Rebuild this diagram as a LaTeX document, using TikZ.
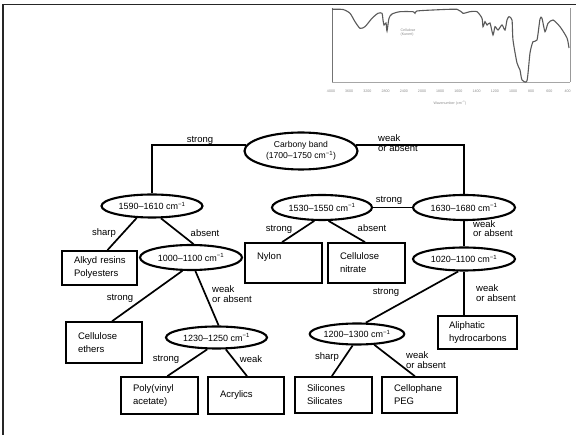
\documentclass[tikz,border=0pt]{standalone}
\usepackage{fontspec}
\setmainfont{Liberation Sans}
\usetikzlibrary{shapes.geometric,calc}
\newcommand{\wn}{cm\textsuperscript{−1}}
\begin{document}
\begin{tikzpicture}[x=1pt,y=-1pt,
  ell/.style={ellipse,draw,line width=2.1pt,inner sep=0pt,align=center,font=\fontsize{9}{11}\selectfont},
  box/.style={rectangle,draw,line width=1.7pt,inner xsep=12pt,inner ysep=0pt,align=left,font=\fontsize{9.5}{13}\selectfont},
  lbl/.style={inner sep=0pt,align=left,font=\fontsize{9.5}{9.5}\selectfont},
  conn/.style={line width=1.7pt},
  tick/.style={inner sep=0pt,text=black!45,font=\fontsize{3.6}{4}\selectfont},
  frameline/.style={line width=1.4pt,black!85}]
\useasboundingbox (0,0) rectangle (576,435);
\fill[white] (0,0) rectangle (576,435);
% page frame
\coordinate (tl) at (3,4.5);
\coordinate (tr) at (576,4.5);
\coordinate (bl) at (3,435);
\draw[frameline] (tr) -- (tl) -- (bl);
% spectrum inset
\coordinate (sp0) at (332,8);
\coordinate (sp1) at (332,82);
\coordinate (sp2) at (570,82);
\coordinate (sp3) at (570,8);
\draw[black!35,line width=0.6pt] (sp1) -- (sp2);
\draw[black!55,line width=0.7pt] (sp0) -- (sp1);
\draw[black!40,line width=0.7pt] (sp2) -- (sp3);
\draw[black!65,line width=1.1pt] plot[smooth,tension=0.4] coordinates {
 (332,9.3) (343,9.5) (350,13.3) (355,21.7) (360,28.3) (365,26.7) (372,18.3) (378,13.3)
 (382,13.3) (383,20) (384,25) (386,23) (387,31) (389,18.3) (392,14) (400,11.7) (413,11.7)
 (415,13.3) (417,11) (433,10) (457,9.3) (463,13.3) (470,11.7) (477,11.7) (482,18.3)
 (483,26.7) (485,21.7) (487,25) (490,23) (493,35) (495,26.7) (498,30) (502,25) (505,30)
 (507,20) (509,16.7) (512,20) (513,40) (517,63) (520,70) (522,80) (527,80.7) (530,53)
 (533,41.7) (537,40) (540,19) (542,18.3) (545,31.7) (548,23.3) (553,20) (560,26.7)
 (567,38) (569,48)};
\node[tick,align=left] (cel) at (408,33) {Cellulose\\(Kunert)};
\foreach \v [count=\i from 0] in {4000,3600,3200,2800,2400,2000,1800,1600,1400,1200,1000,800,600,400}
  \node[tick] (t\i) at ({331+\i*18.2},91) {\v};
\node[tick] (wnl) at (450,103) {Wavenumber (\wn)};
% ellipses
\node[ell,minimum width=113pt,minimum height=37pt,font=\fontsize{8.6}{11.5}\selectfont] (carb) at (301,151) {Carbony band\\(1700–1750 \wn)};
\node[ell,minimum width=101pt,minimum height=23pt] (e1590) at (152,206) {1590–1610 \wn};
\node[ell,minimum width=100pt,minimum height=25pt] (e1530) at (322,207.5) {1530–1550 \wn};
\node[ell,minimum width=102pt,minimum height=25pt] (e1630) at (464,207.5) {1630–1680 \wn};
\node[ell,minimum width=102pt,minimum height=25pt] (e1000) at (191,257.5) {1000–1100 \wn};
\node[ell,minimum width=102pt,minimum height=23pt] (e1020) at (464,259) {1020–1100 \wn};
\node[ell,minimum width=101pt,minimum height=22pt] (e1230) at (216.5,337.5) {1230–1250 \wn};
\node[ell,minimum width=94pt,minimum height=21pt] (e1200) at (357,334) {1200–1300 \wn};
% boxes
\node[box,text width=51pt,minimum height=34pt] (alkyd) at (99.5,268) {\mbox{Alkyd resins}\\Polyesters};
\node[box,text width=53pt,minimum height=40pt] (nylon) at (283.5,263) {Nylon\\\mbox{}};
\node[box,text width=53pt,minimum height=40pt] (cnit) at (366.5,263) {Cellulose\\nitrate};
\node[box,text width=52pt,minimum height=41pt] (ceth) at (104,342.5) {Cellulose\\ethers};
\node[box,text width=57pt,minimum height=33pt,inner xsep=11pt] (aliph) at (477.5,332.5) {Aliphatic\\\mbox{hydrocarbons}};
\node[box,text width=53pt,minimum height=37pt] (poly) at (159.5,395.5) {Poly(vinyl\\acetate)};
\node[box,text width=52pt,minimum height=37pt] (acryl) at (246,395.5) {Acrylics};
\node[box,text width=53pt,minimum height=36pt] (silic) at (333.5,395) {Silicones\\Silicates};
\node[box,text width=51pt,minimum height=36pt] (cello) at (419.5,395) {Cellophane\\PEG};
% connectors
\draw[conn] (carb.174) -| (e1590.north);
\draw[conn] (carb.6) -| (e1630.north);
\draw[conn] (e1590.218) -- (alkyd.66);
\draw[conn] (e1590.306) -- (e1000.80);
\draw[conn] (e1000.237) -- (ceth.69);
\draw[conn] (e1000.288) -- (e1230.80);
\draw[conn] (e1230.232) -- (poly.68);
\draw[conn] (e1230.308) -- (acryl.87);
\draw[conn] (e1530.240) -- (nylon.94);
\draw[conn] (e1530.296) -- (cnit.94);
\draw[conn] (e1530.east) -- (e1630.west);
\draw[conn] (e1630.south) -- (e1020.north);
\draw[conn] (e1020.245) -- (e1200.52);
\draw[conn] (e1020.south) -- (e1020.south |- aliph.north);
\draw[conn] (e1200.249) -- (silic.95);
\draw[conn] (e1200.328) -- (cello.104);
% labels
\node[lbl] (l1) at (200,140) {strong};
\node[lbl,anchor=west] (l2) at (378,143) {weak\\or absent};
\node[lbl] (l3) at (104,233) {sharp};
\node[lbl] (l4) at (205,233) {absent};
\node[lbl] (l5) at (120,298.5) {strong};
\node[lbl,anchor=west] (l6) at (212,294) {weak\\or absent};
\node[lbl] (l7) at (166,359) {strong};
\node[lbl] (l8) at (251,359) {weak};
\node[lbl] (l9) at (279,229) {strong};
\node[lbl] (l10) at (372,228) {absent};
\node[lbl] (l11) at (389,200) {strong};
\node[lbl,anchor=west] (l12) at (473,228.5) {weak\\or absent};
\node[lbl] (l13) at (386,292) {strong};
\node[lbl,anchor=west] (l14) at (476,293) {weak\\or absent};
\node[lbl] (l15) at (327,357) {sharp};
\node[lbl,anchor=west] (l16) at (406,360) {weak\\or absent};
\end{tikzpicture}
\end{document}
